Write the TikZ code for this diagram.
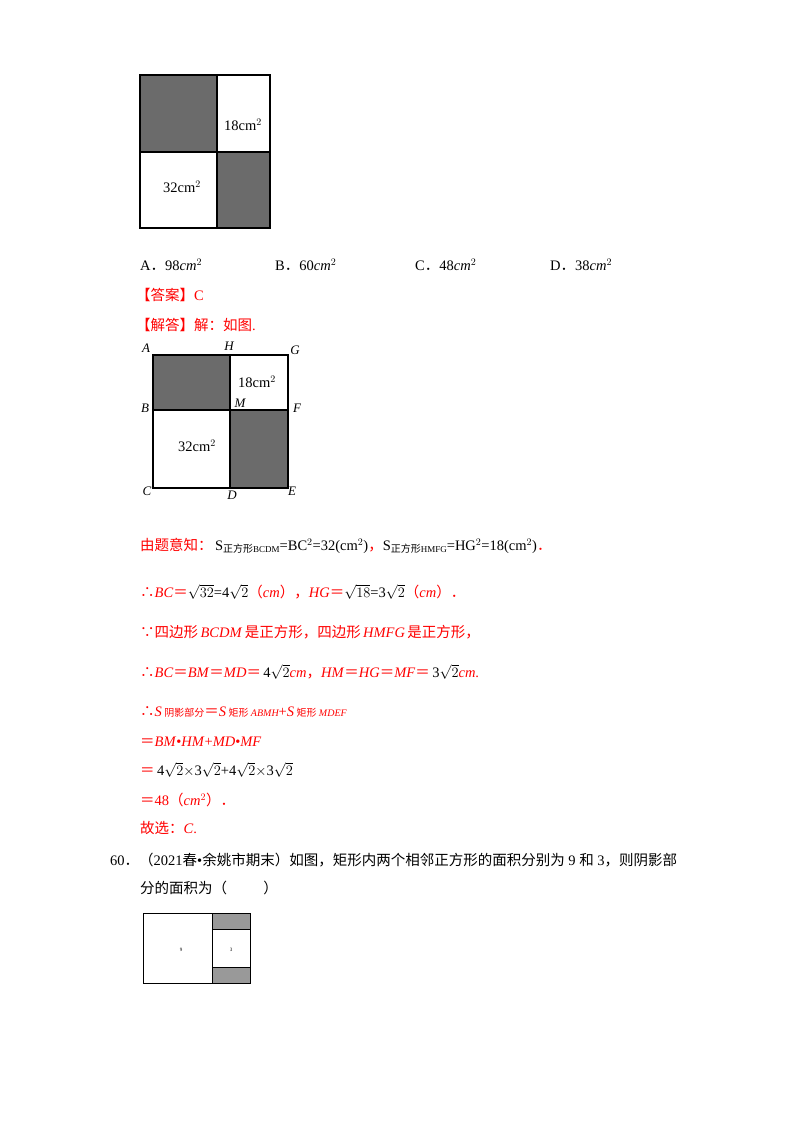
\documentclass[tikz,border=0pt]{standalone}
\usepackage{fontspec}
\setmainfont{Liberation Serif}
\newfontfamily\cjk{Noto Sans CJK SC}
\newcommand{\CJ}[1]{{\cjk #1}}
\newcommand{\lowsub}[1]{\raisebox{-0.35ex}{#1}}
\begin{document}
\begin{tikzpicture}[x=1pt,y=-1pt,
  every node/.style={inner sep=0pt,font=\fontsize{14.5}{16}\selectfont},
  txt/.style={anchor=west},
  red/.style={text=red},
  lbl/.style={font=\fontsize{13}{14}\selectfont\itshape},
  dark/.style={fill=black!58,draw=black,line width=1.2pt},
  wbox/.style={draw=black,line width=1.2pt}]
\useasboundingbox (0,0) rectangle (800,1132);
% figure 1
\draw[dark] (140,75) rectangle (217,152);
\draw[wbox] (217,75) rectangle (270,152);
\draw[wbox] (140,152) rectangle (217,228);
\draw[dark] (217,152) rectangle (270,228);
\node (f1a) at (243,125) {18cm$^2$};
\node (f1b) at (182,187) {32cm$^2$};
% options
\node[txt] (oa) at (140,265) {A\CJ{．}98\textit{cm}$^2$};
\node[txt] (ob) at (275,265) {B\CJ{．}60\textit{cm}$^2$};
\node[txt] (oc) at (415,265) {C\CJ{．}48\textit{cm}$^2$};
\node[txt] (od) at (550,265) {D\CJ{．}38\textit{cm}$^2$};
\node[txt,red] (ans) at (136,295) {\CJ{【答案】}C};
\node[txt,red] (sol) at (136,325) {\CJ{【解答】解：如图}.};
% figure 2
\draw[dark] (153,355) rectangle (230,410);
\draw[wbox] (230,355) rectangle (288,410);
\draw[wbox] (153,410) rectangle (230,488);
\draw[dark] (230,410) rectangle (288,488);
\node (f2a) at (257,382) {18cm$^2$};
\node (f2b) at (197,446) {32cm$^2$};
\node[lbl] (pA) at (146,348) {A};
\node[lbl] (pH) at (229,346) {H};
\node[lbl] (pG) at (295,350) {G};
\node[lbl] (pB) at (145,408) {B};
\node[lbl] (pM) at (240,403) {M};
\node[lbl] (pF) at (297,408) {F};
\node[lbl] (pC) at (147,491) {C};
\node[lbl] (pD) at (232,495) {D};
\node[lbl] (pE) at (292,491) {E};
% solution lines
\node[txt,red] (l1) at (140,546) {\CJ{由题意知：}\,\textcolor{black}{S\lowsub{{\cjk\fontsize{10}{10}\selectfont 正方形}{\fontsize{9}{9}\selectfont BCDM}}=BC$^2$=32(cm$^2$)}\CJ{，}\textcolor{black}{S\lowsub{{\cjk\fontsize{10}{10}\selectfont 正方形}{\fontsize{9}{9}\selectfont HMFG}}=HG$^2$=18(cm$^2$)}\CJ{．}};
\node[txt,red] (l2) at (140,592) {\CJ{∴}\textit{BC}\CJ{＝}\textcolor{black}{$\sqrt{32}$=4$\sqrt2$}\CJ{（}\textit{cm}\CJ{），}\textit{HG}\CJ{＝}\textcolor{black}{$\sqrt{18}$=3$\sqrt2$}\CJ{（}\textit{cm}\CJ{）．}};
\node[txt,red] (l3) at (140,632) {\CJ{∵四边形}\,\textit{BCDM}\,\CJ{是正方形，四边形}\,\textit{HMFG}\,\CJ{是正方形，}};
\node[txt,red] (l4) at (140,672) {\CJ{∴}\textit{BC}\CJ{＝}\textit{BM}\CJ{＝}\textit{MD}\CJ{＝}\,\textcolor{black}{4$\sqrt2$}\textit{cm}\CJ{，}\textit{HM}\CJ{＝}\textit{HG}\CJ{＝}\textit{MF}\CJ{＝}\,\textcolor{black}{3$\sqrt2$}\textit{cm}.};
\node[txt,red] (l5) at (140,712) {\CJ{∴}\textit{S}\,{\cjk\fontsize{10}{10}\selectfont 阴影部分}\CJ{＝}\textit{S}\,{\cjk\fontsize{10}{10}\selectfont 矩形}\,{\fontsize{10}{10}\selectfont\itshape ABMH}+\textit{S}\,{\cjk\fontsize{10}{10}\selectfont 矩形}\,{\fontsize{10}{10}\selectfont\itshape MDEF}};
\node[txt,red] (l6) at (140,742) {\CJ{＝}\textit{BM}•\textit{HM}+\textit{MD}•\textit{MF}};
\node[txt,red] (l7) at (140,770) {\CJ{＝}\,\textcolor{black}{4$\sqrt2\times$3$\sqrt2$+4$\sqrt2\times$3$\sqrt2$}};
\node[txt,red] (l8) at (140,800) {\CJ{＝}48\CJ{（}\textit{cm}$^2$\CJ{）．}};
\node[txt,red] (l9) at (140,828) {\CJ{故选：}\textit{C}.};
% problem 60
\node[txt] (p1) at (110,860) {60\CJ{．（}2021\CJ{春}•\CJ{余姚市期末）如图，矩形内两个相邻正方形的面积分别为} 9 \CJ{和} 3\CJ{，则阴影部}};
\node[txt] (p2) at (140,888) {\CJ{分的面积为（\hspace{2.5em}）}};
% figure 3
\draw[wbox,line width=0.9pt] (143,913) rectangle (212,983);
\draw[fill=black!40,draw=black,line width=0.9pt] (212,913) rectangle (250,929);
\draw[wbox,line width=0.9pt] (212,929) rectangle (250,967);
\draw[fill=black!40,draw=black,line width=0.9pt] (212,967) rectangle (250,983);
\node[font=\fontsize{5}{5}\selectfont] (n9) at (181,950) {9};
\node[font=\fontsize{5}{5}\selectfont] (n3) at (231,950) {3};
\end{tikzpicture}
\end{document}
